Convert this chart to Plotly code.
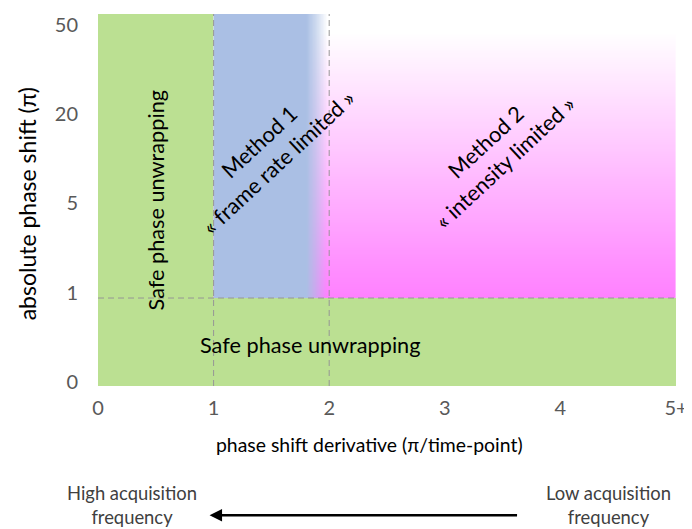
import numpy as np
import plotly.graph_objects as go

# ---- data ----
x_tick_vals = [0, 1, 2, 3, 4, 5]
x_tick_text = ["0", "1", "2", "3", "4", "5+"]
y_tick_vals = [0, 1, 2, 3, 4]
y_tick_text = ["0", "1", "5", "20", "50"]

x_bounds = [0, 5]          # derivative axis extent
y_bounds = [-0.045, 4.12]  # absolute phase shift axis extent (tick-position units)
safe_deriv = 1.0           # safe unwrapping limit for derivative
method1_deriv = 2.0        # method 1 limit
blue_solid_until = 1.8
blue_fade_end = 1.98
safe_abs = 0.94            # safe unwrapping limit for absolute phase (position)
pink_white_at = 3.92

region_labels = {
    "safe_v": "Safe phase unwrapping",
    "safe_h": "Safe phase unwrapping",
    "m1": "Method 1<br>« frame rate limited »",
    "m2": "Method 2<br>« intensity limited »",
}

GREEN = "#BBE092"
BLUE_RGB = (170, 191, 228)
PINK = "#FF80FF"
DASH_COL = "#959595"
FONT = "Lato"

fig = go.Figure()

# pink vertical gradient (method 2 region)
ny = 160
y_edges = np.linspace(safe_abs, y_bounds[1], ny + 1)
y_cent = (y_edges[:-1] + y_edges[1:]) / 2
fig.add_trace(go.Heatmap(
    x=[safe_deriv, x_bounds[1]], y=y_edges, z=y_cent.reshape(-1, 1),
    zmin=safe_abs, zmax=pink_white_at,
    colorscale=[[0, PINK], [1, "#FFFFFF"]],
    showscale=False, hoverinfo="skip", zsmooth=False,
))

# blue horizontal fade (method 1 region)
nx = 200
x_edges = np.linspace(safe_deriv, method1_deriv, nx + 1)
x_cent = (x_edges[:-1] + x_edges[1:]) / 2
r, g, b = BLUE_RGB
span = method1_deriv - safe_deriv
p1 = (blue_solid_until - safe_deriv) / span
p2 = (blue_fade_end - safe_deriv) / span
fig.add_trace(go.Heatmap(
    x=x_edges, y=[safe_abs, y_bounds[1]], z=x_cent.reshape(1, -1),
    zmin=safe_deriv, zmax=method1_deriv,
    colorscale=[[0, f"rgba({r},{g},{b},1)"], [p1, f"rgba({r},{g},{b},1)"],
                [(p1 + p2) / 2, f"rgba({r},{g},{b},0.55)"],
                [p2, f"rgba({r},{g},{b},0)"], [1, f"rgba({r},{g},{b},0)"]],
    showscale=False, hoverinfo="skip", zsmooth=False,
))

shapes = [
    dict(type="rect", xref="x", yref="y", x0=x_bounds[0], x1=safe_deriv,
         y0=y_bounds[0], y1=y_bounds[1], fillcolor=GREEN, line=dict(width=0), layer="below"),
    dict(type="rect", xref="x", yref="y", x0=x_bounds[0], x1=x_bounds[1],
         y0=y_bounds[0], y1=safe_abs, fillcolor=GREEN, line=dict(width=0), layer="below"),
]
for xv in [safe_deriv, method1_deriv]:
    shapes.append(dict(type="line", xref="x", yref="y", x0=xv, x1=xv,
                       y0=y_bounds[0], y1=y_bounds[1],
                       line=dict(color=DASH_COL, width=1, dash="6px,4px"), layer="above"))
shapes.append(dict(type="line", xref="x", yref="y", x0=x_bounds[0], x1=x_bounds[1],
                   y0=safe_abs, y1=safe_abs,
                   line=dict(color=DASH_COL, width=1, dash="6px,4px"), layer="above"))

ann_font = dict(family=FONT, size=21.7, color="black")
annotations = [
    dict(x=0.5, y=2.03, xref="x", yref="y", text=region_labels["safe_v"], textangle=-90,
         showarrow=False, font=ann_font),
    dict(x=1.83, y=0.41, xref="x", yref="y", text=region_labels["safe_h"],
         showarrow=False, font=ann_font),
    dict(x=1.48, y=2.57, xref="x", yref="y", text=region_labels["m1"], textangle=-43,
         showarrow=False, font=ann_font),
    dict(x=3.44, y=2.57, xref="x", yref="y", text=region_labels["m2"], textangle=-43,
         showarrow=False, font=ann_font),
    # axis titles
    dict(x=0.469, y=-0.158, xref="paper", yref="paper", text="phase shift derivative (π/time-point)",
         showarrow=False, font=dict(family=FONT, size=19.4, color="black"),
         xanchor="center", yanchor="middle"),
    dict(x=-0.1224, y=0.489, xref="paper", yref="paper", text="absolute phase shift (π)",
         textangle=-90, showarrow=False, font=dict(family=FONT, size=23, color="black"),
         xanchor="center", yanchor="middle"),
    # bottom frequency labels
    dict(x=0.0586, y=-0.3195, xref="paper", yref="paper", text="High acquisition<br>frequency",
         showarrow=False, font=dict(family=FONT, size=18.4, color="#404040"),
         xanchor="center", yanchor="middle"),
    dict(x=0.884, y=-0.3195, xref="paper", yref="paper", text="Low acquisition<br>frequency",
         showarrow=False, font=dict(family=FONT, size=18.4, color="#404040"),
         xanchor="center", yanchor="middle"),
    dict(x=0.193, y=-0.3476, xref="paper", yref="paper", text="", showarrow=True,
         ax=309, ay=0, arrowhead=2, arrowsize=1, arrowwidth=2.5, arrowcolor="black",
         standoff=0, startstandoff=0),
]

fig.update_layout(
    width=684, height=521,
    margin=dict(l=90, r=14, t=4, b=143),
    plot_bgcolor="white", paper_bgcolor="white",
    font=dict(family=FONT),
    shapes=shapes, annotations=annotations,
    showlegend=False,
    xaxis=dict(range=x_bounds, tickvals=x_tick_vals, ticktext=x_tick_text,
               showgrid=False, zeroline=False, showline=False, ticks="",
               tickfont=dict(family=FONT, size=20, color="#595959"),
               ticklabelstandoff=8, fixedrange=True),
    yaxis=dict(range=y_bounds, tickvals=y_tick_vals, ticktext=y_tick_text,
               showgrid=False, zeroline=False, showline=False, ticks="",
               tickfont=dict(family=FONT, size=20, color="#595959"),
               ticklabelstandoff=19, fixedrange=True),
)

fig.write_html("out.html")
